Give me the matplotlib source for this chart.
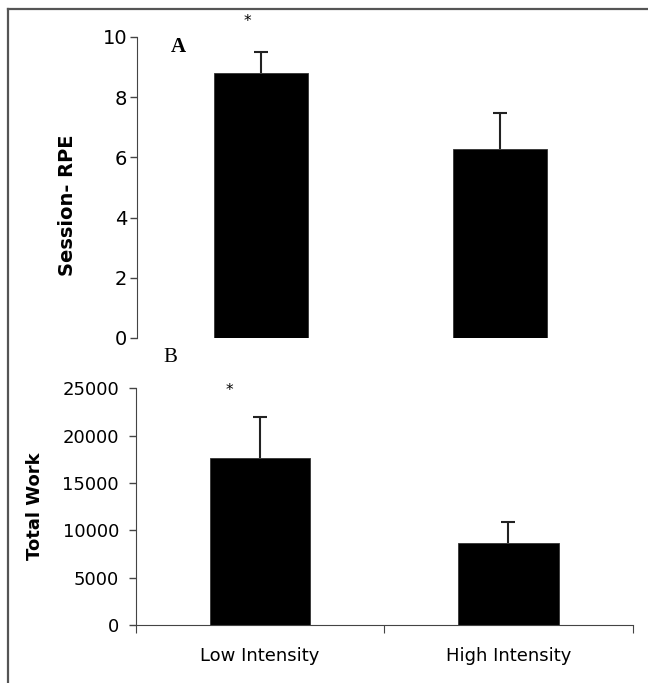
import matplotlib
matplotlib.use('Agg')
import matplotlib.pyplot as plt
from matplotlib.lines import Line2D
import numpy as np

groups = ['Low Intensity', 'High Intensity']
rpe_mean = [8.79, 6.27]
rpe_sd = [0.71, 1.19]
work_mean = [17600, 8690]
work_sd = [4340, 2220]

plt.rcParams['font.family'] = ['DejaVu Sans']
spine_col = '#444444'

fig = plt.figure(figsize=(6.48, 6.83), dpi=100)
W, H = 648.0, 683.0

# frame lines along top and left edge
fig.add_artist(Line2D([8 / W, 1.0], [1 - 9 / H, 1 - 9 / H], color='#555555', lw=1.6,
                      transform=fig.transFigure))
fig.add_artist(Line2D([8 / W, 8 / W], [0.0, 1 - 9 / H], color='#555555', lw=1.6,
                      transform=fig.transFigure))

ax_rpe = fig.add_axes([137 / W, (H - 338) / H, 496 / W, 301 / H])
ax_work = fig.add_axes([135.7 / W, (H - 625) / H, 497 / W, 236.7 / H])


def bars_with_sd(ax, xs, means, sds, width):
    ax.bar(xs, means, width=width, color='black', edgecolor='#333333', lw=0.6, zorder=2)
    _, caps, _ = ax.errorbar(xs, means, yerr=[[0] * len(sds), sds], fmt='none',
                             ecolor='#222222', elinewidth=1.5, capsize=5, capthick=1.5,
                             zorder=1)
    caps[0].set_visible(False)


# panel A
bars_with_sd(ax_rpe, [0, 0.965], rpe_mean, rpe_sd, 0.38)
ax_rpe.set_xlim(-0.5, 1.5)
ax_rpe.set_ylim(0, 10)
ax_rpe.set_yticks([0, 2, 4, 6, 8, 10])
ax_rpe.set_xticks([])
for s in ['top', 'right', 'bottom']:
    ax_rpe.spines[s].set_visible(False)
ax_rpe.spines['left'].set_color(spine_col)
ax_rpe.tick_params(axis='y', length=5, width=1, color=spine_col, labelsize=14, pad=2)
ax_rpe.set_ylabel('Session- RPE', fontsize=14, fontweight='bold')
ax_rpe.yaxis.set_label_coords(-0.12, 0.442)
ax_rpe.text(0.083, 0.967, 'A', transform=ax_rpe.transAxes, fontsize=15, fontweight='bold',
            family='Liberation Serif', ha='center', va='center')
ax_rpe.text(0.222, 1.05, '*', transform=ax_rpe.transAxes, fontsize=11, ha='center',
            va='center', clip_on=False)
ax_rpe.patch.set_alpha(0)

# panel B
bars_with_sd(ax_work, [0.0, 1.0], work_mean, work_sd, 0.405)
ax_work.set_xlim(-0.5, 1.5)
ax_work.set_ylim(0, 25000)
ax_work.set_yticks(np.arange(0, 25001, 5000))
ax_work.set_xticks([-0.5, 0.5, 1.5])
ax_work.set_xticklabels([])
ax_work.set_xticks([0.0, 1.0], minor=True)
ax_work.set_xticklabels(groups, minor=True)
ax_work.tick_params(axis='x', which='minor', length=0, labelsize=13, pad=16)
ax_work.tick_params(axis='x', which='major', length=6, direction='out', color=spine_col)
for s in ['top', 'right']:
    ax_work.spines[s].set_visible(False)
ax_work.spines['left'].set_color(spine_col)
ax_work.spines['bottom'].set_color(spine_col)
ax_work.tick_params(axis='y', length=5, width=1, color=spine_col, labelsize=13, pad=7)
ax_work.set_ylabel('Total Work', fontsize=13, fontweight='bold')
ax_work.yaxis.set_label_coords(-0.185, 0.5)
ax_work.text(0.07, 1.13, 'B', transform=ax_work.transAxes, fontsize=15,
             family='Liberation Serif', ha='center', va='center')
ax_work.text(0.188, 0.99, '*', transform=ax_work.transAxes, fontsize=11, ha='center',
             va='center')
ax_work.patch.set_alpha(0)

fig.savefig('out.png', dpi=100)
